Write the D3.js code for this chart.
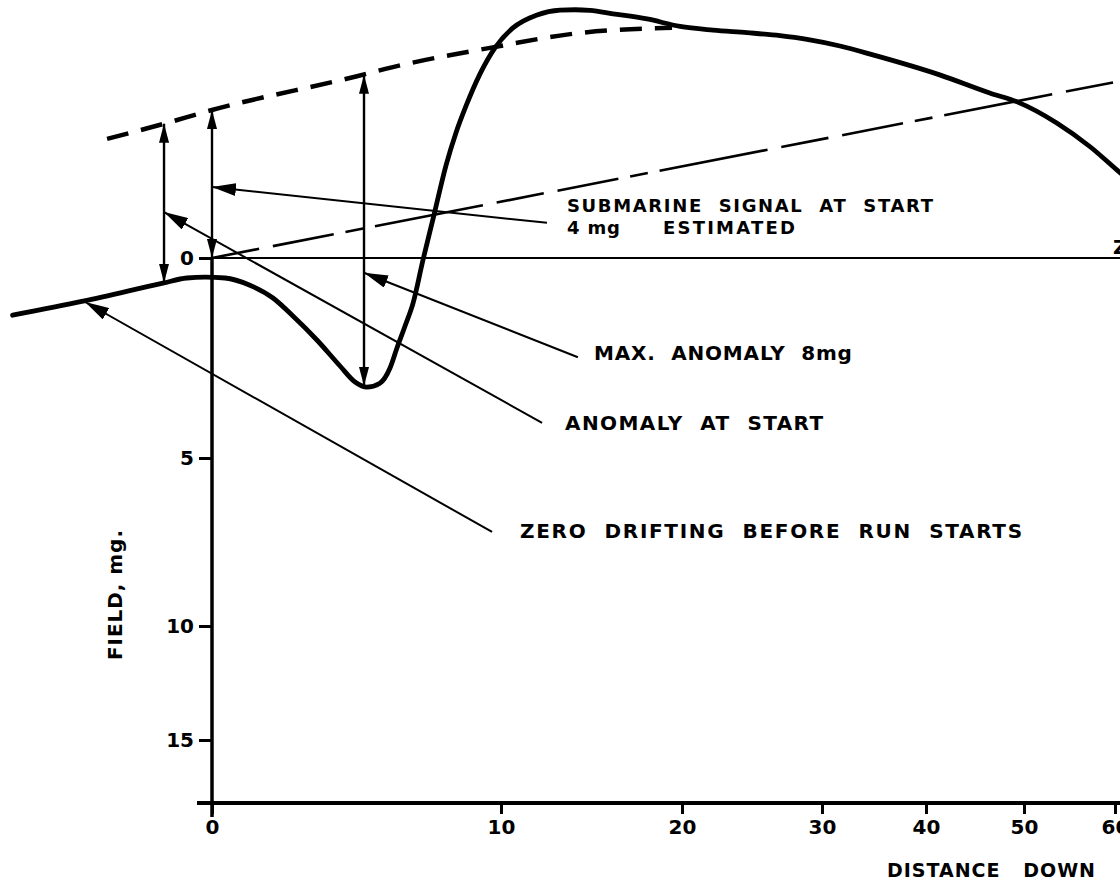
<!DOCTYPE html>
<html>
<head>
<meta charset="utf-8">
<script src="https://cdn.jsdelivr.net/npm/d3@7"></script>
<style>
  html, body { margin: 0; padding: 0; background: #fff; }
  svg { display: block; }
  text { font-family: "DejaVu Sans", sans-serif; font-weight: bold; fill: #000; white-space: pre; }
</style>
</head>
<body>
<div id="svg-container"></div>
<script>
//////////////  Data  //////////////
// distance down (x) and field in mg (y, positive downwards, negative = above zero)
const xTicks = [0, 10, 20, 30, 40, 50, 60];
const yTicks = [0, 5, 10, 15];

// recorded field (thick curve)
const record = [
  [-6.9, 1.43], [-4.46, 1.08], [-1.7, 0.63], [-0.87, 0.5], [-0.24, 0.48], [0.45, 0.5],
  [1.31, 0.68], [2.11, 1.0], [2.8, 1.45], [3.63, 2.05], [4.43, 2.7], [4.95, 3.1],
  [5.36, 3.23], [5.81, 3.13], [6.16, 2.75], [6.4, 2.25], [6.68, 1.7], [6.96, 1.12],
  [7.3, 0.05], [7.68, -1.16], [8.1, -2.51], [8.44, -3.38], [8.79, -4.11], [9.27, -4.97],
  [9.79, -5.68], [10.66, -6.22], [11.99, -6.57], [13.26, -6.7], [14.09, -6.71], [14.92, -6.69],
  [16.19, -6.6], [18.07, -6.46], [19.89, -6.26], [22.21, -6.16], [24.64, -6.09], [27.0, -6.01],
  [28.93, -5.91], [31.73, -5.73], [34.9, -5.49], [41.4, -4.95], [46.5, -4.46], [49.3, -4.22],
  [53.6, -3.65], [57.3, -3.0], [60.2, -2.38], [61.1, -2.19]
];

// estimated undisturbed level (heavy dashes)
const baseline = [
  [-3.63, -3.22], [-1.7, -3.62], [0, -4.0], [5.05, -4.92], [6.26, -5.16],
  [9.62, -5.68], [14.31, -6.08], [19.45, -6.22]
];

// zero drift line after start (dash-dot)
const drift = [[0, 0], [60.5, -4.78]];

// zero line
const zeroLine = [[0, 0], [62, 0]];

// double-headed measuring arrows: distance, top field, bottom field
const measures = [
  [-1.66, -3.63, 0.62],
  [0, -4.0, 0.0],
  [5.26, -4.95, 3.2]
];

// annotation leaders: arrow tip and tail (data units)
const leaders = [
  { tip: [0, -1.92], tail: [12.54, -0.95] },
  { tip: [5.26, 0.37], tail: [14.25, 2.48] },
  { tip: [-1.66, -1.24], tail: [12.27, 4.12] },
  { tip: [-4.39, 1.1], tail: [9.69, 7.2] }
];

const labelTexts = [
  "SUBMARINE  SIGNAL  AT  START",
  "4 mg",
  "ESTIMATED",
  "MAX.  ANOMALY  8mg",
  "ANOMALY  AT  START",
  "ZERO  DRIFTING  BEFORE  RUN  STARTS"
];

//////////////  Layout  //////////////
const width = 1120, height = 884;
const xRange = [212, 501, 682, 822, 926, 1024, 1115];
const yDomain = [-8, 0, 5, 10, 15];
const yRange = [-38, 258, 458, 626, 740];
const axisY = 803;

// [leader index, dx, dy, textLength, font size] relative to leader tail
const labelLayout = [
  [0, 20, -11, 366, 18],
  [0, 20, 11, 53, 18],
  [0, 116, 11, 132, 18],
  [1, 16, 3, 258, 20],
  [2, 23, 7, 258, 20],
  [3, 28, 6, 502, 20]
];

//////////////  Init  //////////////
const svg = d3.select("#svg-container").append("svg")
  .attr("width", width).attr("height", height);

const x = d3.scaleLinear().domain(xTicks).range(xRange);
const y = d3.scaleLinear().domain(yDomain).range(yRange);

const line = d3.line().x((d) => x(d[0])).y((d) => y(d[1]));
const smooth = d3.line().curve(d3.curveMonotoneX)
  .x((d) => x(d[0])).y((d) => y(d[1]));

// arrowheads
const defs = svg.append("defs");
function marker(id, len, half) {
  defs.append("marker").attr("id", id)
    .attr("viewBox", `0 ${-half} ${len} ${2 * half}`)
    .attr("refX", len).attr("refY", 0)
    .attr("markerWidth", len).attr("markerHeight", 2 * half)
    .attr("markerUnits", "userSpaceOnUse")
    .attr("orient", "auto-start-reverse")
    .append("path")
    .attr("d", `M0,${-half}L${len},0L0,${half}Z`)
    .attr("fill", "#000");
}
marker("arr-v", 19, 5);
marker("arr-l", 24, 6.5);

//////////////  Axes  //////////////
// x axis
svg.append("line")
  .attr("x1", x(0) - 15).attr("x2", width)
  .attr("y1", axisY).attr("y2", axisY)
  .attr("stroke", "#000").attr("stroke-width", 4);

const gx = svg.append("g")
  .attr("transform", `translate(0,${axisY})`)
  .call(d3.axisBottom(x).tickValues(xTicks).tickSize(11).tickPadding(6).tickFormat(d3.format("d")));
gx.select(".domain").remove();
gx.selectAll(".tick line").attr("stroke-width", 3);
gx.selectAll(".tick text").attr("font-size", 20);
gx.attr("font-family", null).attr("font-size", null);

// y axis
svg.append("line")
  .attr("x1", x(0)).attr("x2", x(0))
  .attr("y1", y(0)).attr("y2", axisY + 14)
  .attr("stroke", "#000").attr("stroke-width", 3.5);

const gy = svg.append("g")
  .attr("transform", `translate(${x(0)},0)`)
  .call(d3.axisLeft(y).tickValues(yTicks).tickSize(13).tickPadding(5));
gy.select(".domain").remove();
gy.selectAll(".tick line").attr("stroke-width", 3);
gy.selectAll(".tick text").attr("font-size", 20);
gy.attr("font-family", null).attr("font-size", null);

// axis titles
svg.append("text")
  .attr("transform", `translate(122,595) rotate(-90)`)
  .attr("text-anchor", "middle")
  .attr("font-size", 20)
  .attr("textLength", 130).attr("lengthAdjust", "spacing")
  .text("FIELD, mg.");

svg.append("text")
  .attr("x", 887).attr("y", 877)
  .attr("font-size", 19)
  .attr("textLength", 208).attr("lengthAdjust", "spacing")
  .text("DISTANCE   DOWN");

// label cut off at the end of the zero line
svg.append("text")
  .attr("x", x(0) + 901).attr("y", y(0) - 4)
  .attr("font-size", 20)
  .text("Z");

//////////////  Lines  //////////////
svg.append("path").datum(zeroLine)
  .attr("fill", "none").attr("stroke", "#000").attr("stroke-width", 2)
  .attr("d", line);

svg.append("path").datum(drift)
  .attr("fill", "none").attr("stroke", "#000").attr("stroke-width", 2.6)
  .attr("stroke-dasharray", "48,14,62,12,18,12,110,14")
  .attr("d", line);

svg.append("path").datum(baseline)
  .attr("fill", "none").attr("stroke", "#000").attr("stroke-width", 4.5)
  .attr("stroke-dasharray", "22,13")
  .attr("d", smooth);

svg.append("path").datum(record)
  .attr("fill", "none").attr("stroke", "#000").attr("stroke-width", 4.8)
  .attr("stroke-linecap", "round").attr("stroke-linejoin", "round")
  .attr("d", smooth);

// measuring arrows
svg.selectAll(".measure").data(measures).join("line")
  .attr("class", "measure")
  .attr("x1", (d) => x(d[0])).attr("x2", (d) => x(d[0]))
  .attr("y1", (d) => y(d[1])).attr("y2", (d) => y(d[2]))
  .attr("stroke", "#000").attr("stroke-width", 2.4)
  .attr("marker-start", "url(#arr-v)").attr("marker-end", "url(#arr-v)");

// leaders
svg.selectAll(".leader").data(leaders).join("line")
  .attr("class", "leader")
  .attr("x1", (d) => x(d.tail[0])).attr("y1", (d) => y(d.tail[1]))
  .attr("x2", (d) => x(d.tip[0])).attr("y2", (d) => y(d.tip[1]))
  .attr("stroke", "#000").attr("stroke-width", 2)
  .attr("marker-end", "url(#arr-l)");

// labels
svg.selectAll(".label").data(labelLayout).join("text")
  .attr("class", "label")
  .attr("x", (d) => x(leaders[d[0]].tail[0]) + d[1])
  .attr("y", (d) => y(leaders[d[0]].tail[1]) + d[2])
  .attr("font-size", (d) => d[4])
  .attr("textLength", (d) => d[3]).attr("lengthAdjust", "spacing")
  .text((d, i) => labelTexts[i]);
</script>
</body>
</html>
